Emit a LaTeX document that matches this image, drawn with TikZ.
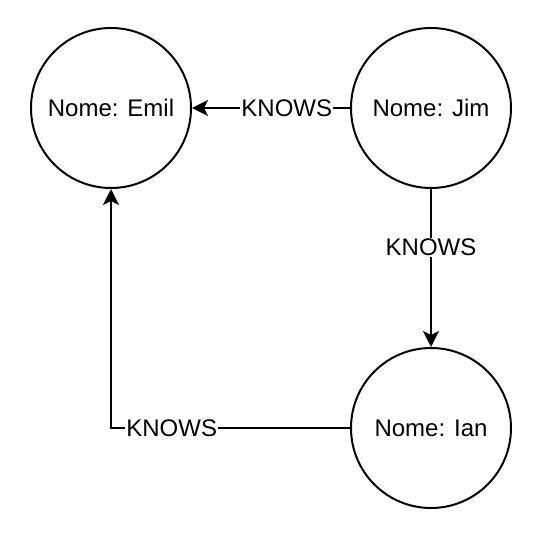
\documentclass[tikz,border=0pt]{standalone}
\usepackage{fontspec}
\setmainfont{Liberation Sans}
\usetikzlibrary{arrows.meta}

\tikzset{
  person/.style={draw, circle, line width=1.5pt, minimum size=120pt, inner sep=0pt,
    font=\fontsize{18}{20}\selectfont},
  knows/.style={draw, line width=1.5pt, -{Stealth[length=12pt, width=12pt, inset=3pt]}},
  relname/.style={fill=white, inner sep=1pt, font=\fontsize{18}{20}\selectfont}
}

\begin{document}
\begin{tikzpicture}[x=0.75pt,y=0.75pt,yscale=-1,xscale=1]
%set diagram left start at 0, and has height of 538
\path[use as bounding box] (0,0) rectangle (550,538);

% Nodes
\node[person] (emil) at (111,108) {Nome: Emil};
\node[person] (jim) at (431,108) {Nome: Jim};
\node[person] (ian) at (431,428) {Nome: Ian};

% Relations
\draw[knows] (jim) -- node[relname, pos=0.4] {KNOWS} (emil);
\draw[knows] (jim) -- node[relname, pos=0.37] {KNOWS} (ian);
\draw[knows] (ian.west) -| node[relname, pos=0.373] {KNOWS} (emil.south);
\end{tikzpicture}
\end{document}
